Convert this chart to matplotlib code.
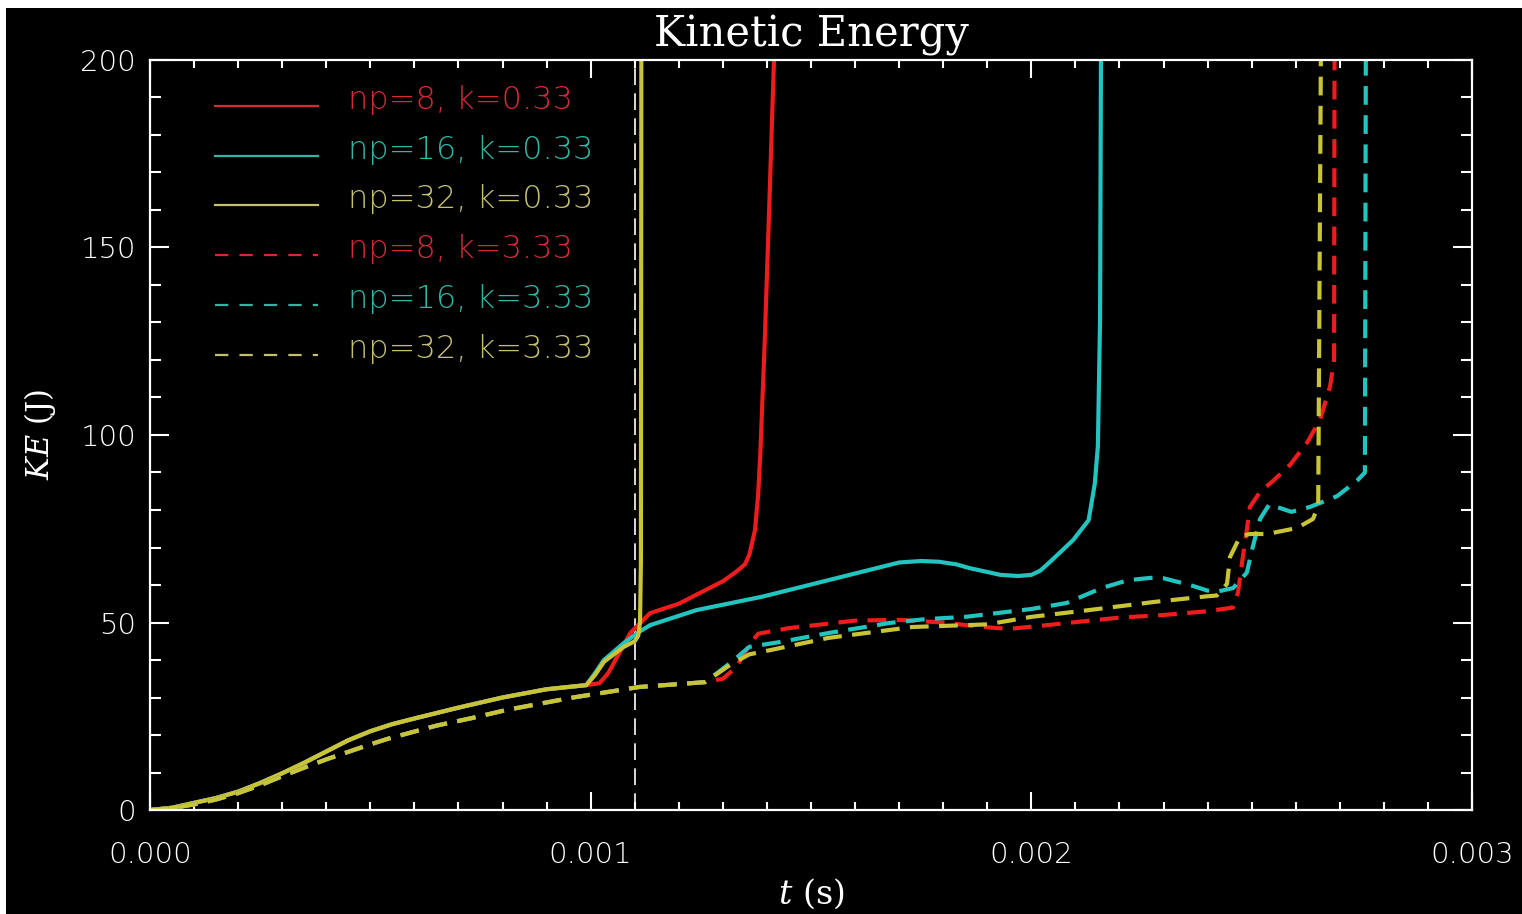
import matplotlib
matplotlib.use("Agg")
import matplotlib.pyplot as plt
from matplotlib.patches import Rectangle
from matplotlib.ticker import MultipleLocator

plt.rcParams['mathtext.fontset'] = 'dejavuserif'

# ---- data (t in seconds, KE in J) ----
t_early_s = [0, 0.00005, 0.0001, 0.00015, 0.0002, 0.00025, 0.0003, 0.00035, 0.0004, 0.00045,
             0.0005, 0.00055, 0.0006, 0.0007, 0.0008, 0.0009, 0.00099]
ke_early_s = [0, 0.6, 1.9, 3.2, 4.9, 7.2, 9.8, 12.6, 15.6, 18.6,
              21.0, 22.9, 24.4, 27.3, 30.0, 32.2, 33.3]

t_r_s = t_early_s + [0.00102, 0.00104, 0.00106, 0.00109, 0.001135, 0.0012, 0.00125, 0.0013,
                     0.00133, 0.00135, 0.00136, 0.001373, 0.00138, 0.001385, 0.001395,
                     0.001405, 0.001416]
ke_r_s = ke_early_s + [33.8, 36.5, 40.8, 47.2, 52.5, 55.0, 58.0, 61.0,
                       63.5, 65.5, 68.0, 74.7, 84.0, 95, 125,
                       160, 200]

t_c_s = t_early_s + [0.00101, 0.00103, 0.001075, 0.00111, 0.001135, 0.00124, 0.00139, 0.00154,
                     0.0017, 0.00175, 0.00179, 0.00183, 0.00186, 0.00193, 0.00197, 0.002,
                     0.00202, 0.00204, 0.002095, 0.00213, 0.002144, 0.002151, 0.002156, 0.002158]
ke_c_s = ke_early_s + [36.5, 40.0, 44.5, 47.5, 49.3, 53.3, 56.9, 61.3,
                       66.0, 66.4, 66.2, 65.5, 64.5, 62.7, 62.4, 62.7,
                       63.8, 65.9, 72.0, 77.3, 87, 97, 131, 200]

t_y_s = t_early_s + [0.00101, 0.00103, 0.001075, 0.0011, 0.001108, 0.001112, 0.001114, 0.001115]
ke_y_s = ke_early_s + [36.0, 39.5, 43.5, 45.0, 46.5, 50, 66, 200]

t_early_d = [0, 0.00005, 0.0001, 0.00015, 0.0002, 0.00025, 0.0003, 0.00035, 0.0004, 0.00045,
             0.0005, 0.00054, 0.00065, 0.00073, 0.00081, 0.00096, 0.00111, 0.00126]
ke_early_d = [0, 0.5, 1.5, 2.8, 4.5, 6.6, 9.0, 11.3, 13.5, 15.5,
              17.5, 19.0, 22.5, 24.5, 26.7, 30.0, 32.8, 34.1]

t_r_d = t_early_d + [0.0013, 0.00133, 0.00136, 0.00138, 0.00145, 0.0016, 0.0017, 0.0018, 0.00189,
                     0.00195, 0.00202, 0.0021, 0.0022, 0.0023, 0.0024, 0.002458, 0.002469, 0.00248,
                     0.002489, 0.002496, 0.002519, 0.002548, 0.002587, 0.002626, 0.002655,
                     0.002678, 0.002687, 0.002688]
ke_r_d = ke_early_d + [35.0, 38.0, 44.0, 47.0, 48.5, 50.5, 50.7, 50.0, 48.8,
                       48.3, 49.1, 50.1, 51.3, 52.0, 53.0, 54.0, 58.0, 67.5,
                       74.7, 80.8, 84.8, 87.7, 92.0, 98.0, 104.0,
                       113.0, 120.0, 200]

t_c_d = t_early_d + [0.00132, 0.00136, 0.00143, 0.00154, 0.00168, 0.00176, 0.00185, 0.002,
                     0.00208, 0.00216, 0.00222, 0.00228, 0.0023, 0.00236, 0.0024, 0.002421,
                     0.002458, 0.002489, 0.002503, 0.002519, 0.00254, 0.00259, 0.002632,
                     0.002694, 0.002739, 0.002757, 0.002759]
ke_c_d = ke_early_d + [39.5, 43.5, 44.8, 47.2, 49.9, 50.9, 51.5, 53.6,
                       55.2, 59.2, 61.3, 62.0, 61.8, 60.0, 58.5, 58.2,
                       59.2, 63.3, 70.4, 77.6, 81.5, 79.5, 80.8,
                       83.7, 87.8, 90.0, 200]

t_y_d = t_early_d + [0.00132, 0.00136, 0.00141, 0.00154, 0.00173, 0.0019, 0.002, 0.00213,
                     0.00228, 0.0024, 0.002421, 0.002444, 0.002451, 0.002474, 0.002496,
                     0.002535, 0.002603, 0.002639, 0.002651, 0.002657]
ke_y_d = ke_early_d + [39.0, 41.5, 42.7, 45.9, 48.8, 49.5, 51.5, 53.3,
                       55.5, 57.0, 57.2, 60.3, 67.5, 73.0, 73.6,
                       73.6, 75.2, 77.6, 81.0, 200]

labels = ['np=8, k=0.33', 'np=16, k=0.33', 'np=32, k=0.33',
          'np=8, k=3.33', 'np=16, k=3.33', 'np=32, k=3.33']
t_marker = 0.0011

# ---- style ----
RED = '#ee1c1c'
CYAN = '#22c4c0'
YEL = '#c8c436'
RED_T = '#d42a36'
CYAN_T = '#33b5a5'
YEL_T = '#c4c070'

fig = plt.figure(figsize=(15.22, 9.14), dpi=100, facecolor='white')
fig.patches.append(Rectangle((6/1522, 0), 1, (914 - 8)/914, transform=fig.transFigure,
                             facecolor='black', edgecolor='none', zorder=-10))
ax = fig.add_axes([150/1522, (914-810)/914, (1472-150)/1522, (810-60)/914])
ax.set_facecolor('black')

lw = 3.0
dash = (0, (4.5, 2.5))
ax.plot(t_r_s, ke_r_s, color=RED, lw=lw, solid_capstyle='butt', solid_joinstyle='round')
ax.plot(t_c_s, ke_c_s, color=CYAN, lw=lw, solid_capstyle='butt', solid_joinstyle='round')
ax.plot(t_y_s, ke_y_s, color=YEL, lw=lw, solid_capstyle='butt', solid_joinstyle='round')
ax.plot(t_r_d, ke_r_d, color=RED, lw=lw, ls=dash)
ax.plot(t_c_d, ke_c_d, color=CYAN, lw=lw, ls=dash)
ax.plot(t_y_d, ke_y_d, color=YEL, lw=lw, ls=dash)
ax.axvline(t_marker, color='white', lw=1.2, ls=(0, (10, 5)), zorder=1)

ax.set_xlim(0, 0.003)
ax.set_ylim(0, 200)

for s in ax.spines.values():
    s.set_color('white')
    s.set_linewidth(1.6)

ax.xaxis.set_major_locator(MultipleLocator(0.001))
ax.xaxis.set_minor_locator(MultipleLocator(0.0001))
ax.yaxis.set_major_locator(MultipleLocator(50))
ax.yaxis.set_minor_locator(MultipleLocator(10))
ax.tick_params(which='both', direction='in', top=True, right=True, colors='white',
               width=1.5)
ax.tick_params(axis='y', which='major', length=14, labelsize=21, pad=10)
ax.tick_params(axis='y', which='minor', length=8)
ax.tick_params(axis='x', which='major', length=13, labelsize=21, pad=22)
ax.tick_params(axis='x', which='minor', length=6)
ax.set_xticks([0, 0.001, 0.002, 0.003])
ax.set_xticklabels(['0.000', '0.001', '0.002', '0.003'])
for lab in ax.get_xticklabels() + ax.get_yticklabels():
    lab.set_fontweight('light')
    lab.set_color('white')

ax.set_title('Kinetic Energy', fontfamily='DejaVu Serif', fontsize=30, color='white', pad=10)
ax.set_xlabel(r'$t$ (s)', fontfamily='DejaVu Serif', fontsize=24, color='white', labelpad=6)
ax.set_ylabel(r'$KE$ (J)', fontfamily='DejaVu Serif', fontsize=22, color='white', labelpad=16)

# ---- legend drawn manually ----
leg_cols = [RED_T, CYAN_T, YEL_T, RED_T, CYAN_T, YEL_T]
leg_styles = ['-', '-', '-', (0, (6, 5)), (0, (6, 5)), (0, (6, 5))]
rows_y = [100, 150, 199, 249, 299, 349]
for lab, c, st, yp in zip(labels, leg_cols, leg_styles, rows_y):
    yf = (914 - yp - 6) / 914
    fig.add_artist(plt.Line2D([215/1522, 318/1522], [yf, yf], transform=fig.transFigure,
                              color=c, lw=1.6, ls=st))
    fig.text(348/1522, (914 - yp)/914, lab, color=c, fontsize=23, fontweight='light',
             va='center', ha='left')

fig.savefig('out.png', dpi=100, facecolor=fig.get_facecolor())
